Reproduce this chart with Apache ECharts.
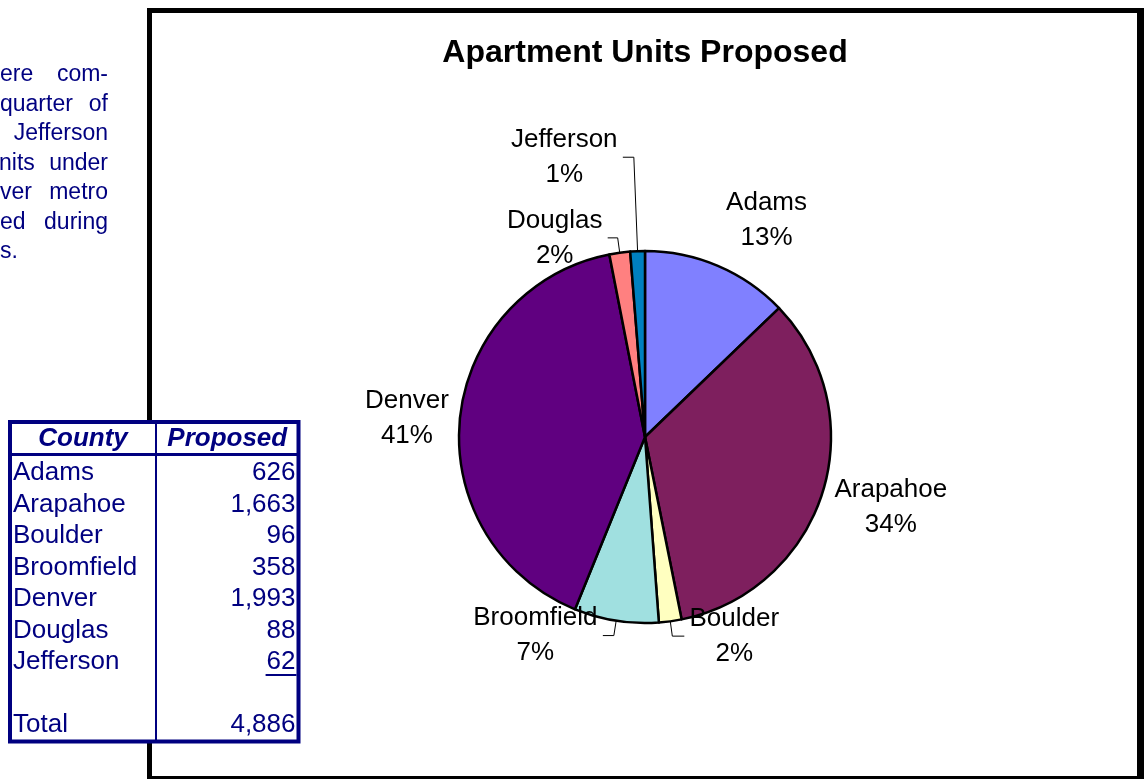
<!DOCTYPE html>
<html>
<head>
<meta charset="utf-8">
<script src="https://cdn.jsdelivr.net/npm/echarts@6/dist/echarts.min.js"></script>
<style>
  html, body { margin: 0; padding: 0; background: #ffffff; }
  #chart { width: 1144px; height: 779px; }
</style>
</head>
<body>
<div id="chart"></div>
<script>
// County data: apartment units proposed
const counties = ['Adams', 'Arapahoe', 'Boulder', 'Broomfield', 'Denver', 'Douglas', 'Jefferson'];
const proposed = [626, 1663, 96, 358, 1993, 88, 62];
const sliceColors = ['#8080FF', '#7E1F5E', '#FFFFC0', '#A0E0E0', '#600080', '#FF8080', '#0080C0'];
const chartTitle = 'Apartment Units Proposed';
const tableHeaders = ['County', 'Proposed'];
const totalLabel = 'Total';
// Fragments of the commentary column (left part runs off the page)
const noteLines = [['ere', 'com-'], ['quarter', 'of'], ['', 'Jefferson'], ['nits', 'under'], ['ver', 'metro'], ['ed', 'during'], ['s.', '']];

// Leader-line lengths per slice (radial, then horizontal); hidden lines still place the label
const labelPlacement = [
  { len: 49, len2: -16, line: false },
  { len: 48, len2: -39, line: false },
  { len: 15, len2: 12, line: true },
  { len: 15, len2: 11, line: true },
  { len: 12, len2: -6, line: false },
  { len: 15, len2: 10, line: true },
  { len: 94, len2: 11, line: true }
];

const FONT = "'Liberation Sans', Arial, Helvetica, sans-serif";
const NAVY = '#000080';
const total = proposed.reduce((a, b) => a + b, 0);

const measureCtx = document.createElement('canvas').getContext('2d');
function textWidth(str, font) { measureCtx.font = font; return measureCtx.measureText(str).width; }
const fmt = n => n.toLocaleString('en-US');

const labelFont = '26px ' + FONT;
const pieData = counties.map((name, i) => {
  const pct = Math.round(proposed[i] / total * 100) + '%';
  const w = Math.ceil(Math.max(textWidth(name, labelFont), textWidth(pct, labelFont)));
  const p = labelPlacement[i];
  return {
    name: name,
    value: proposed[i],
    itemStyle: { color: sliceColors[i] },
    label: {
      rich: { c: { width: w, align: 'center', fontSize: 26, lineHeight: 35, fontFamily: FONT, color: '#000' } }
    },
    labelLine: { show: p.line, length: p.len, length2: p.len2 }
  };
});

// ---- static decorations: chart frame, commentary, county table ----
const graphics = [];

// chart-area frame (thick black border)
[[147, 8, 5, 771], [147, 8, 997, 5], [1137, 8, 7, 771], [147, 776, 997, 3]].forEach(r => {
  graphics.push({ type: 'rect', z: 1, shape: { x: r[0], y: r[1], width: r[2], height: r[3] }, style: { fill: '#000' }, silent: true });
});

// title
graphics.push({
  type: 'text', z: 5, x: 645, y: 53,
  style: { text: chartTitle, font: 'bold 32px ' + FONT, fill: '#000', align: 'center', verticalAlign: 'middle' }
});

// commentary fragments, justified to the column edge
const noteRight = 108, noteTop = 75, notePitch = 29.5;
noteLines.forEach((pair, i) => {
  const y = noteTop + i * notePitch;
  if (pair[0]) graphics.push({ type: 'text', z: 5, x: pair[0] === 'nits' ? -1 : 0, y: y,
    style: { text: pair[0], font: '23px ' + FONT, fill: NAVY, align: 'left', verticalAlign: 'middle' } });
  if (pair[1]) graphics.push({ type: 'text', z: 5, x: noteRight, y: y,
    style: { text: pair[1], font: '23px ' + FONT, fill: NAVY, align: 'right', verticalAlign: 'middle' } });
});

// county table
const tL = 10, tR = 298.5, tT = 422, tB = 741.5, colX = 156, headY = 454.5;
graphics.push({ type: 'rect', z: 10, shape: { x: tL, y: tT, width: tR - tL, height: tB - tT },
  style: { fill: '#fff', stroke: NAVY, lineWidth: 4 } });
graphics.push({ type: 'line', z: 11, shape: { x1: colX, y1: tT, x2: colX, y2: tB }, style: { stroke: NAVY, lineWidth: 2 } });
graphics.push({ type: 'line', z: 11, shape: { x1: tL, y1: headY, x2: tR, y2: headY }, style: { stroke: NAVY, lineWidth: 3 } });
const headFont = 'italic bold 26px ' + FONT;
graphics.push({ type: 'text', z: 12, x: (tL + colX) / 2, y: 439,
  style: { text: tableHeaders[0], font: headFont, fill: NAVY, align: 'center', verticalAlign: 'middle' } });
graphics.push({ type: 'text', z: 12, x: (colX + tR) / 2, y: 439,
  style: { text: tableHeaders[1], font: headFont, fill: NAVY, align: 'center', verticalAlign: 'middle' } });
const cellFont = '26px ' + FONT, rowTop = 473, rowPitch = 31.5, nameX = 13, valX = 295.5;
counties.forEach((name, i) => {
  const y = rowTop + i * rowPitch;
  graphics.push({ type: 'text', z: 12, x: nameX, y: y, style: { text: name, font: cellFont, fill: NAVY, align: 'left', verticalAlign: 'middle' } });
  graphics.push({ type: 'text', z: 12, x: valX, y: y, style: { text: fmt(proposed[i]), font: cellFont, fill: NAVY, align: 'right', verticalAlign: 'middle' } });
});
// underline on the last value before the total
const lastIdx = counties.length - 1;
const lastW = textWidth(fmt(proposed[lastIdx]), cellFont);
const ulY = rowTop + lastIdx * rowPitch + 13;
graphics.push({ type: 'line', z: 12, shape: { x1: valX - lastW - 1, y1: ulY, x2: valX + 1, y2: ulY }, style: { stroke: NAVY, lineWidth: 2 } });
const totalY = rowTop + (counties.length + 1) * rowPitch;
graphics.push({ type: 'text', z: 12, x: nameX, y: totalY, style: { text: totalLabel, font: cellFont, fill: NAVY, align: 'left', verticalAlign: 'middle' } });
graphics.push({ type: 'text', z: 12, x: valX, y: totalY, style: { text: fmt(total), font: cellFont, fill: NAVY, align: 'right', verticalAlign: 'middle' } });

const chart = echarts.init(document.getElementById('chart'), null, { renderer: 'canvas' });
chart.setOption({
  animation: false,
  backgroundColor: '#ffffff',
  graphic: { elements: graphics },
  series: [{
    type: 'pie',
    center: [645, 437],
    radius: 186,
    startAngle: 90,
    clockwise: true,
    avoidLabelOverlap: false,
    itemStyle: { borderColor: '#000', borderWidth: 2.5 },
    label: {
      show: true,
      position: 'outside',
      distanceToLabelLine: 5,
      formatter: p => '{c|' + p.name + '}\n{c|' + Math.round(p.value / total * 100) + '%}'
    },
    labelLine: { lineStyle: { color: '#000', width: 1 } },
    emphasis: { disabled: true },
    data: pieData
  }]
});
</script>
</body>
</html>
